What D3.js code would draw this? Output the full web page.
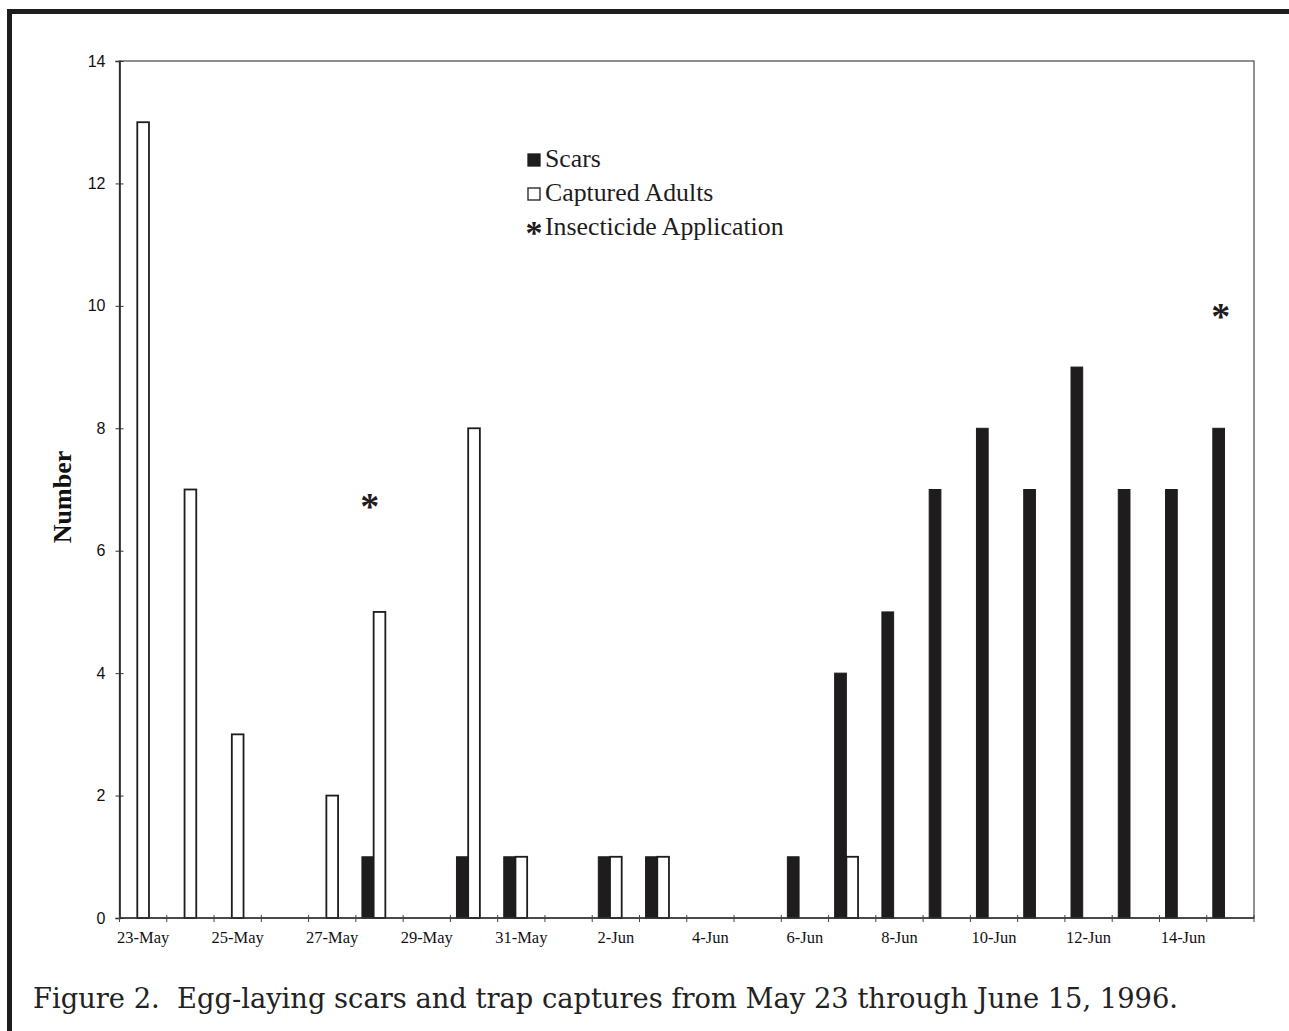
<!DOCTYPE html>
<html>
<head>
<meta charset="utf-8">
<script src="https://cdn.jsdelivr.net/npm/d3@7"></script>
<style>
  body { margin: 0; background: #fff; }
  svg { display: block; }
</style>
</head>
<body>
<svg id="vis"></svg>
<script>
// days on the x axis, 23-May through 15-Jun
const dates = [
  "23-May", "24-May", "25-May", "26-May", "27-May", "28-May", "29-May", "30-May",
  "31-May", "1-Jun", "2-Jun", "3-Jun", "4-Jun", "5-Jun", "6-Jun", "7-Jun",
  "8-Jun", "9-Jun", "10-Jun", "11-Jun", "12-Jun", "13-Jun", "14-Jun", "15-Jun"
];

// labels shown under the axis (every other day)
const dateLabels = [
  "23-May", "25-May", "27-May", "29-May", "31-May", "2-Jun",
  "4-Jun", "6-Jun", "8-Jun", "10-Jun", "12-Jun", "14-Jun"
];

const scars = [0, 0, 0, 0, 0, 1, 0, 1, 1, 0, 1, 1, 0, 0, 1, 4, 5, 7, 8, 7, 9, 7, 7, 8];
const adults = [13, 7, 3, 0, 2, 5, 0, 8, 1, 0, 1, 1, 0, 0, 0, 1, 0, 0, 0, 0, 0, 0, 0, 0];

// insecticide applications: day and height of the asterisk
const sprayDates = ["28-May", "15-Jun"];
const sprayLevels = [6.8, 9.9];

const seriesKeys = ["Scars", "Captured Adults", "Insecticide Application"];
const yTicks = [0, 2, 4, 6, 8, 10, 12, 14];

let config = { svg: {}, plot: {}, legend: {} };

config.svg.width = 1289;
config.svg.height = 1031;

config.plot.left = 119.5;
config.plot.right = 1254;
config.plot.top = 61;
config.plot.bottom = 918;

config.legend.x = 527;
config.legend.y = 153;
config.legend.step = 34;

const svg = d3.select("svg#vis")
  .attr("width", config.svg.width)
  .attr("height", config.svg.height);

// page frame (scanned page edge)
svg.append("rect")
  .attr("x", 7).attr("y", 9)
  .attr("width", config.svg.width - 7).attr("height", 5)
  .attr("fill", "#1e1c1d");
svg.append("rect")
  .attr("x", 7).attr("y", 9)
  .attr("width", 5).attr("height", config.svg.height - 9)
  .attr("fill", "#1e1c1d");

let scale = {};

scale.x = d3.scaleBand()
  .domain(dates)
  .range([config.plot.left, config.plot.right])
  .paddingInner(0)
  .paddingOuter(0);

// third (empty) slot keeps the bars left of centre, as in the original
scale.series = d3.scaleBand()
  .domain(seriesKeys)
  .range([0, scale.x.step()])
  .paddingInner(0)
  .paddingOuter(0.52);

scale.y = d3.scaleLinear()
  .domain([0, 14])
  .range([config.plot.bottom, config.plot.top]);

let plot = svg.append("g").attr("id", "plot");

// plot frame
plot.append("rect")
  .attr("x", config.plot.left)
  .attr("y", config.plot.top)
  .attr("width", config.plot.right - config.plot.left)
  .attr("height", config.plot.bottom - config.plot.top)
  .attr("fill", "none")
  .attr("stroke", "#555")
  .attr("stroke-width", 1.3);

// y axis
let axisY = d3.axisLeft(scale.y)
  .tickValues(yTicks)
  .tickFormat(d3.format("d"))
  .tickSizeOuter(0)
  .tickSize(4)
  .tickPadding(10);

let gy = svg.append("g")
  .attr("class", "axis")
  .attr("transform", translate(config.plot.left, 0))
  .call(axisY);

gy.select(".domain").attr("stroke", "#222").attr("stroke-width", 1.6);
gy.selectAll(".tick line").attr("x1", 4).attr("stroke", "#333");
gy.selectAll(".tick text")
  .attr("font-family", "Liberation Sans, Arial, sans-serif")
  .attr("font-size", "16px")
  .attr("fill", "#111");

// x axis: ticks on day boundaries, labels centred in each day
let gx = svg.append("g")
  .attr("class", "axis")
  .attr("transform", translate(0, config.plot.bottom));

gx.append("line")
  .attr("x1", config.plot.left)
  .attr("x2", config.plot.right)
  .attr("stroke", "#333")
  .attr("stroke-width", 1.6);

gx.selectAll("line.tick")
  .data(dates.concat(["end"]))
  .enter()
  .append("line")
  .attr("class", "tick")
  .attr("x1", d => d === "end" ? config.plot.right : scale.x(d))
  .attr("x2", d => d === "end" ? config.plot.right : scale.x(d))
  .attr("y1", -3)
  .attr("y2", 4)
  .attr("stroke", "#444")
  .attr("stroke-width", 1);

gx.selectAll("text")
  .data(dateLabels)
  .enter()
  .append("text")
  .attr("x", d => scale.x(d) + scale.x.bandwidth() / 2)
  .attr("y", 25)
  .attr("text-anchor", "middle")
  .attr("font-family", "Liberation Serif, Times New Roman, serif")
  .attr("font-size", "16.5px")
  .attr("fill", "#111")
  .text(d => d);

// bars
let bars = plot.append("g").attr("id", "bars");

bars.selectAll("rect.scars")
  .data(dates.map((d, i) => ({ date: d, value: scars[i] })).filter(d => d.value > 0))
  .enter()
  .append("rect")
  .attr("class", "scars")
  .attr("x", d => scale.x(d.date) + scale.series("Scars"))
  .attr("y", d => scale.y(d.value))
  .attr("width", scale.series.bandwidth())
  .attr("height", d => scale.y(0) - scale.y(d.value))
  .attr("fill", "#1e1c1d")
  .attr("stroke", "#1e1c1d")
  .attr("stroke-width", 1);

bars.selectAll("rect.adults")
  .data(dates.map((d, i) => ({ date: d, value: adults[i] })).filter(d => d.value > 0))
  .enter()
  .append("rect")
  .attr("class", "adults")
  .attr("x", d => scale.x(d.date) + scale.series("Captured Adults"))
  .attr("y", d => scale.y(d.value))
  .attr("width", scale.series.bandwidth())
  .attr("height", d => scale.y(0) - scale.y(d.value))
  .attr("fill", "#fff")
  .attr("stroke", "#1e1c1d")
  .attr("stroke-width", 1.8);

// insecticide asterisks
plot.selectAll("text.spray")
  .data(sprayDates.map((d, i) => ({ date: d, value: sprayLevels[i] })))
  .enter()
  .append("text")
  .attr("class", "spray")
  .attr("x", d => scale.x(d.date) + scale.series("Scars") + scale.series.bandwidth() / 2 + 2)
  .attr("y", d => scale.y(d.value) + 17)
  .attr("text-anchor", "middle")
  .attr("font-family", "Liberation Serif, serif")
  .attr("font-weight", "bold")
  .attr("font-size", "38px")
  .attr("fill", "#1e1c1d")
  .text("*");

drawLegend();
drawTitles();

function drawLegend() {
  let legend = svg.append("g")
    .attr("id", "legend")
    .attr("transform", translate(config.legend.x, config.legend.y));

  let items = legend.selectAll("g")
    .data(seriesKeys)
    .enter()
    .append("g")
    .attr("transform", (d, i) => translate(0, i * config.legend.step));

  items.filter(d => d !== "Insecticide Application")
    .append("rect")
    .attr("x", 1)
    .attr("y", 1)
    .attr("width", 12)
    .attr("height", 12)
    .attr("fill", d => d === "Scars" ? "#1e1c1d" : "#fff")
    .attr("stroke", "#1e1c1d")
    .attr("stroke-width", 1.3);

  items.filter(d => d === "Insecticide Application")
    .append("text")
    .attr("x", 7)
    .attr("y", 23)
    .attr("text-anchor", "middle")
    .attr("font-family", "Liberation Serif, serif")
    .attr("font-weight", "bold")
    .attr("font-size", "34px")
    .attr("fill", "#1e1c1d")
    .text("*");

  items.append("text")
    .attr("x", 18)
    .attr("y", 14)
    .attr("font-family", "Liberation Serif, Times New Roman, serif")
    .attr("font-size", "25.8px")
    .attr("fill", "#1e1c1d")
    .text(d => d);
}

function drawTitles() {
  svg.append("text")
    .attr("transform", translate(71, 497) + " rotate(-90)")
    .attr("text-anchor", "middle")
    .attr("font-family", "Liberation Serif, Times New Roman, serif")
    .attr("font-weight", "bold")
    .attr("font-size", "26px")
    .attr("fill", "#111")
    .text("Number");

  svg.append("text")
    .attr("x", 33)
    .attr("y", 1008)
    .attr("font-family", "DejaVu Serif, serif")
    .attr("font-size", "27px")
    .attr("textLength", 1145)
    .attr("lengthAdjust", "spacingAndGlyphs")
    .attr("fill", "#222")
    .attr("xml:space", "preserve")
    .style("white-space", "pre")
    .text("Figure 2.  Egg-laying scars and trap captures from May 23 through June 15, 1996.");
}

function translate(x, y) {
  return "translate(" + x + "," + y + ")";
}
</script>
</body>
</html>
